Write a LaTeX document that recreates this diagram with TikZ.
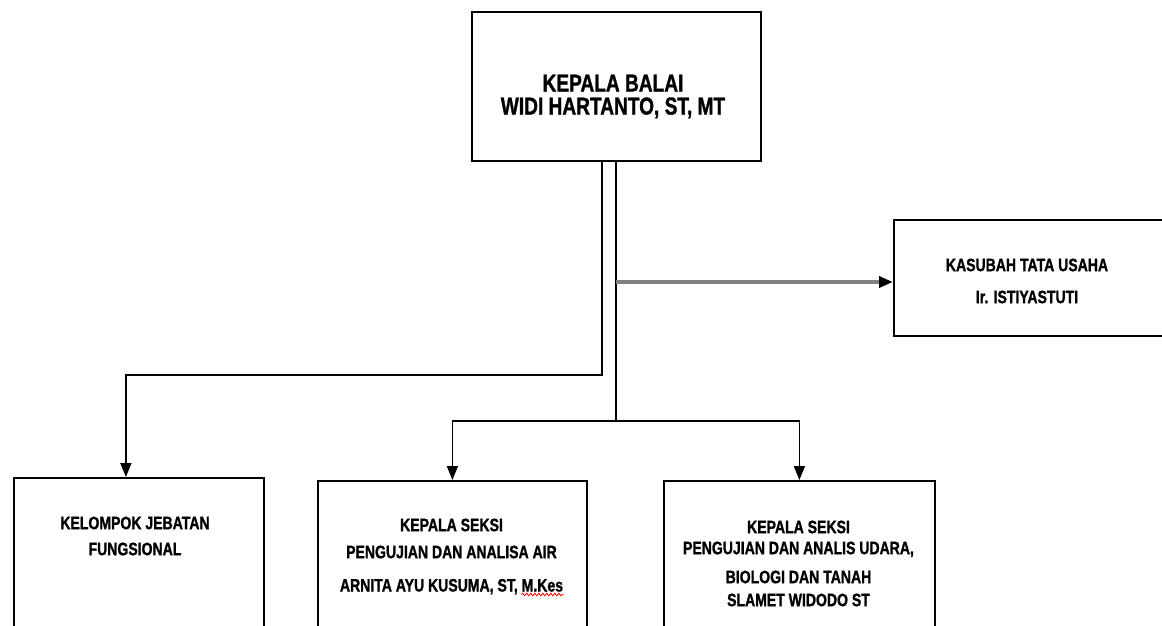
\documentclass[tikz,border=0pt]{standalone}
\usepackage{fontspec}
\setmainfont{Liberation Sans}[FakeStretch=0.78,BoldFeatures={FakeBold=1.2}]
\usetikzlibrary{arrows.meta,decorations.pathmorphing}
\begin{document}
\begin{tikzpicture}[x=1pt,y=-1pt,
  box/.style={draw=black,line width=1.8pt,rectangle,inner sep=0pt,anchor=north west},
  lbl/.style={align=center,font=\fontsize{18}{21}\selectfont\bfseries,inner sep=0pt},
  toplbl/.style={align=center,font=\fontsize{24.5}{23}\selectfont\bfseries,inner sep=0pt},
  tip/.style={-{Triangle[length=14pt,width=11pt,color=black]}},
  line/.style={draw=black,line width=1.8pt},
  conn/.style={line,tip},
  grayconn/.style={draw=black!50,line width=3.6pt,tip},
  squiggle/.style={draw=red,line width=0.8pt,decorate,decoration={snake,amplitude=1.3pt,segment length=4pt}}
]
\useasboundingbox (0,0) rectangle (1162,626);
\clip (0,0) rectangle (1162,626);

% boxes
\node[box,minimum width=289pt,minimum height=149pt] (top) at (471,11) {};
\node[box,minimum width=285pt,minimum height=116pt] (tu) at (893,219) {};
\node[box,minimum width=250pt,minimum height=200pt] (kjf) at (13,477) {};
\node[box,minimum width=269pt,minimum height=200pt] (air) at (317,480) {};
\node[box,minimum width=271pt,minimum height=200pt] (udara) at (663,480) {};

% texts
\node[toplbl] (toptxt) at (613,96.5) {KEPALA BALAI\\WIDI HARTANTO, ST, MT};
\node[lbl] (tutxt) at (1027,281) {KASUBAH TATA USAHA\\[11pt]Ir. ISTIYASTUTI};
\node[lbl] (kjftxt) at (135,536) {KELOMPOK JEBATAN\\[5pt]FUNGSIONAL};
\node[lbl] (airtxt) at (451.5,538.5) {KEPALA SEKSI\\[6pt]PENGUJIAN DAN ANALISA AIR};
\node[lbl,anchor=base] (arn) at (451.5,591.5) {ARNITA AYU KUSUMA, ST, \phantom{M.Kes}};
\node[lbl,anchor=base east] (mkes) at (arn.base east) {M.Kes};
\draw[squiggle] ([yshift=-3pt]mkes.base west) -- ([yshift=-3pt]mkes.base east);
\node[lbl] (udaratxt) at (798.5,563.5) {KEPALA SEKSI\\PENGUJIAN DAN ANALIS UDARA,\\[8pt]BIOLOGI DAN TANAH\\[2pt]SLAMET WIDODO ST};

% connector coordinates
\coordinate (lk) at (602,375);
\coordinate (mk) at (616,421);
\coordinate (ga) at (616,282);

% connectors
\draw[conn] (top.south -| lk) -- (lk) -| ([xshift=-13pt]kjf.north);
\draw[line] (top.south -| mk) -- (mk);
\draw[conn] (mk) -| (air.north);
\draw[conn] (mk) -| (udara.north);
\draw[grayconn] (ga) -- (ga -| tu.west);
\end{tikzpicture}
\end{document}
